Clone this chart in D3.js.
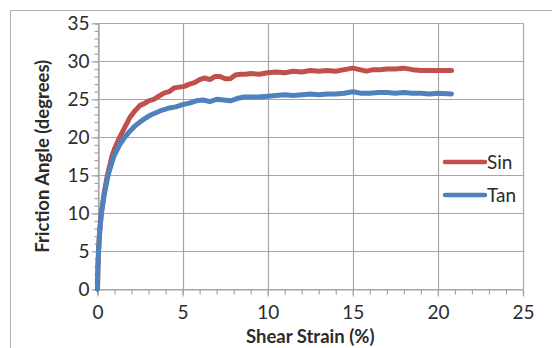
<!DOCTYPE html>
<html>
<head>
<meta charset="utf-8">
<script src="https://cdn.jsdelivr.net/npm/d3@7"></script>
<style>
  html, body { margin: 0; padding: 0; background: #fff; }
  svg text { font-family: Lato, "Open Sans", sans-serif; fill: #262626; }
</style>
</head>
<body>
<svg id="chart" width="552" height="348"></svg>
<script>
// ---- data ----
const sinX = [0,0.02,0.06,0.12,0.22,0.38,0.58,0.85,1.0,1.3,1.6,1.9,2.2,2.5,2.8,3.0,3.3,3.6,3.9,4.2,4.5,4.8,5.1,5.4,5.7,6.0,6.3,6.6,6.9,7.2,7.5,7.8,8.1,8.4,8.7,9.0,9.5,10.0,10.5,11.0,11.5,12.0,12.5,13.0,13.5,14.0,14.5,15.0,15.4,15.8,16.2,16.6,17.0,17.5,18.0,18.5,19.0,19.5,20.0,20.8];
const sinY = [0,2.5,5,7.5,10,12.5,15,17.5,18.5,20,21.3,22.6,23.5,24.2,24.5,24.8,25.0,25.4,25.8,26.0,26.5,26.6,26.7,27.0,27.2,27.6,27.8,27.6,28.0,28.0,27.7,27.7,28.2,28.3,28.3,28.4,28.3,28.5,28.6,28.5,28.7,28.6,28.8,28.7,28.8,28.7,28.9,29.1,28.9,28.7,28.9,28.9,29.0,29.0,29.1,28.9,28.8,28.8,28.8,28.8];
const tanX = [0,0.02,0.06,0.13,0.23,0.4,0.62,0.96,1.3,1.6,1.9,2.2,2.5,2.8,3.1,3.4,3.7,4.0,4.3,4.6,5.0,5.4,5.8,6.2,6.6,7.0,7.4,7.8,8.2,8.6,9.0,9.5,10.0,10.5,11.0,11.5,12.0,12.5,13.0,13.5,14.0,14.5,15.0,15.5,16.0,16.5,17.0,17.5,18.0,18.5,19.0,19.5,20.0,20.8];
const tanY = [0,2.5,5,7.5,10,12.5,15,17.5,19,20,20.8,21.5,22.0,22.5,22.9,23.2,23.5,23.7,23.9,24.0,24.3,24.5,24.8,24.9,24.7,25.0,24.9,24.8,25.1,25.3,25.3,25.3,25.4,25.5,25.6,25.5,25.6,25.7,25.6,25.7,25.7,25.8,26.0,25.8,25.8,25.9,25.9,25.8,25.9,25.8,25.8,25.7,25.8,25.7];
const xTicks = [0,5,10,15,20,25];
const yTicks = [0,5,10,15,20,25,30,35];
const seriesNames = ["Sin","Tan"];
const seriesColors = ["#c0504d","#4f81bd"];
const xTitle = "Shear Strain (%)";
const yTitle = "Friction Angle (degrees)";

// ---- layout ----
const svg = d3.select("#chart");
const L = 97.5, R = 523, T = 23.3, B = 289.3;
const x = d3.scaleLinear().domain([0,25]).range([L,R]);
const y = d3.scaleLinear().domain([0,35]).range([B,T]);
const grid = "#a6a6a6";
const txt = "#2b2b2b";

// outer chart border (cropped)
svg.append("rect").attr("x",10.5).attr("y",10.5).attr("width",700).attr("height",500)
  .attr("fill","none").attr("stroke","#b3b3b3").attr("stroke-width",1);

// gridlines
svg.append("g").selectAll("line").data(yTicks).join("line")
  .attr("x1",L).attr("x2",R).attr("y1",d=>Math.round(y(d))+0.5).attr("y2",d=>Math.round(y(d))+0.5)
  .attr("stroke",grid).attr("stroke-width",1.2);
svg.append("g").selectAll("line").data(xTicks).join("line")
  .attr("y1",T).attr("y2",B).attr("x1",d=>Math.round(x(d))+0.5).attr("x2",d=>Math.round(x(d))+0.5)
  .attr("stroke",grid).attr("stroke-width",1.2);

// axes with minor ticks
const yMinor = d3.range(0,36,1);
const xMinor = d3.range(0,26,1);
const yAx = svg.append("g").attr("transform",`translate(${Math.round(L)+0.5},0)`);
yAx.call(d3.axisLeft(y).tickValues(yMinor).tickSize(4).tickFormat(""));
yAx.selectAll("line,path").attr("stroke",grid).attr("stroke-width",1.2);
const yAx2 = svg.append("g").attr("transform",`translate(${Math.round(L)+0.5},0)`);
yAx2.call(d3.axisLeft(y).tickValues(yTicks).tickSize(7).tickPadding(2).tickFormat(d3.format("d")));
yAx2.select(".domain").remove();
yAx2.selectAll("line").attr("stroke",grid).attr("stroke-width",1.2);
yAx2.selectAll("text").style("font-size","19px").style("fill",txt);

const xAx = svg.append("g").attr("transform",`translate(0,${Math.round(B)+0.5})`);
xAx.call(d3.axisBottom(x).tickValues(xMinor).tickSize(5).tickFormat(""));
xAx.selectAll("line,path").attr("stroke",grid).attr("stroke-width",1.2);
const xAx2 = svg.append("g").attr("transform",`translate(0,${Math.round(B)+0.5})`);
xAx2.call(d3.axisBottom(x).tickValues(xTicks).tickSize(7).tickPadding(9).tickFormat(d3.format("d")));
xAx2.select(".domain").remove();
xAx2.selectAll("line").attr("stroke",grid).attr("stroke-width",1.2);
xAx2.selectAll("text").style("font-size","19px").style("fill",txt);

// lines
const line = d3.line().x(d=>x(d[0])).y(d=>y(d[1])).curve(d3.curveLinear);
const sinData = sinX.map((v,i)=>[v,sinY[i]]);
const tanData = tanX.map((v,i)=>[v,tanY[i]]);
[sinData, tanData].forEach((data,i)=>{
  svg.append("path").datum(data).attr("d",line).attr("fill","none")
    .attr("stroke",seriesColors[i]).attr("stroke-width",5)
    .attr("stroke-linejoin","round").attr("stroke-linecap","round");
});

// titles
svg.append("text").attr("x",(L+R)/2).attr("y",343).attr("text-anchor","middle")
  .style("font-size","18.5px").style("font-weight","bold").style("fill",txt).text(xTitle);
svg.append("text").attr("transform",`translate(49,${(T+B)/2}) rotate(-90)`).attr("text-anchor","middle")
  .style("font-size","18.5px").style("font-weight","bold").style("fill",txt).text(yTitle);

// legend
const lg = svg.append("g");
const legY = [162,195];
seriesNames.forEach((n,i)=>{
  lg.append("line").attr("x1",445).attr("x2",485).attr("y1",legY[i]).attr("y2",legY[i])
    .attr("stroke",seriesColors[i]).attr("stroke-width",4.5).attr("stroke-linecap","round");
  lg.append("text").attr("x",487).attr("y",legY[i]+7).style("font-size","19px").style("fill",txt).text(n);
});
</script>
</body>
</html>
